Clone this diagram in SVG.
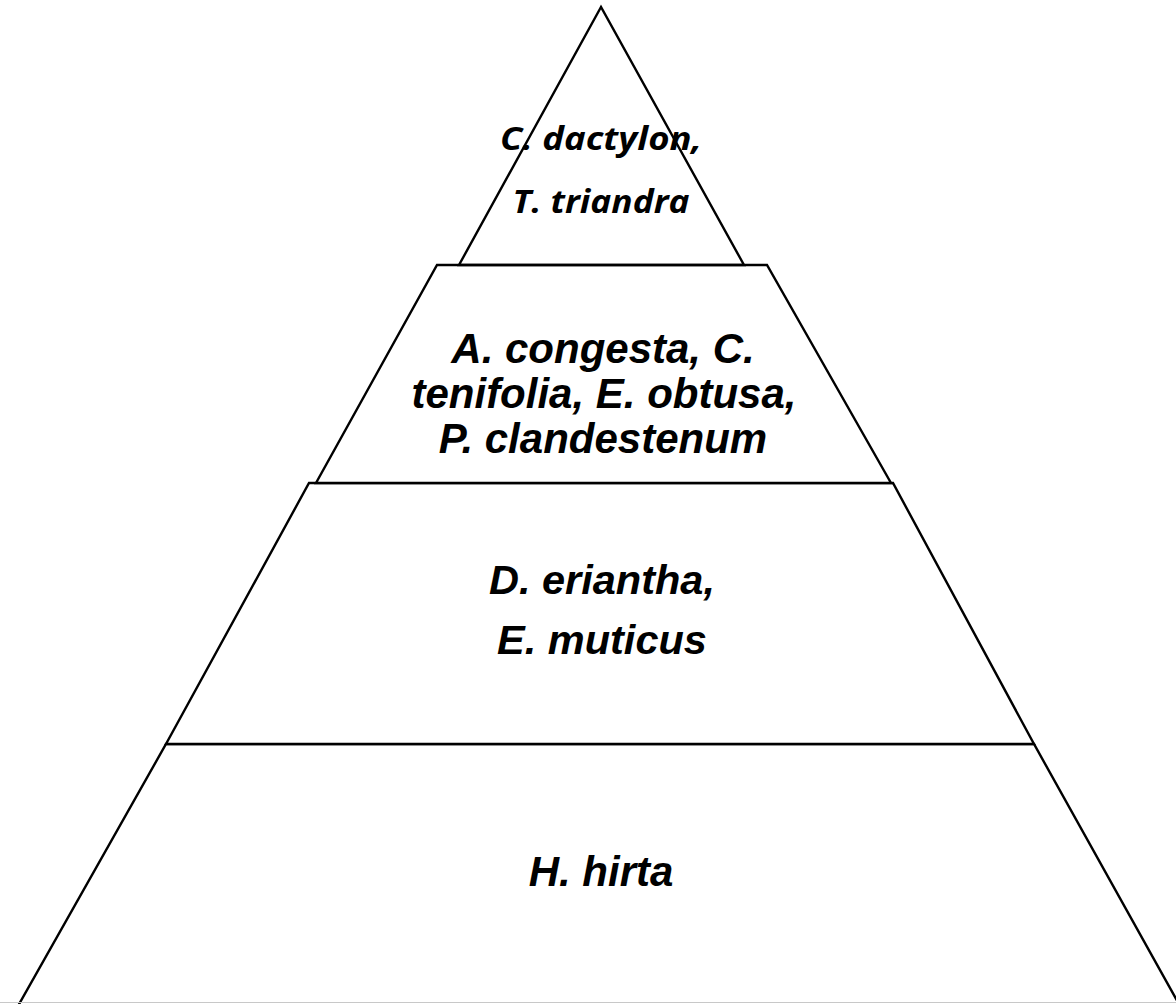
<svg xmlns="http://www.w3.org/2000/svg" width="1176" height="1004" viewBox="0 0 1176 1004">
<style>
.tier{fill:#fff;stroke:#000;stroke-width:2.4;stroke-linejoin:miter}
.lbl{font-family:"Liberation Sans",Arial,sans-serif;font-weight:bold;font-style:italic;font-size:42px;fill:#000;text-anchor:middle}
.mid{font-size:41.5px}
.top{font-family:"Open Sans",Lato,sans-serif;font-weight:bold;font-style:italic;font-size:33px;fill:#000;text-anchor:middle}
</style>
<rect width="1176" height="1004" fill="#fff"/>
<g id="tier4">
<polygon class="tier" points="166,744 1034,744 1180,1006 18,1006"/>
<line x1="0" y1="1002.5" x2="1176" y2="1002.5" stroke="#c8c8c8" stroke-width="1"/>
<text class="lbl" x="601" y="886">H. hirta</text>
</g>
<g id="tier3">
<polygon class="tier" points="309,483 893,483 1034,744 166,744"/>
<text class="lbl mid" x="602" y="594">D. eriantha,</text>
<text class="lbl mid" x="602" y="654">E. muticus</text>
</g>
<g id="tier2">
<polygon class="tier" points="437,265 767,265 891,483 316,483"/>
<text class="lbl" x="603" y="363">A. congesta, C.</text>
<text class="lbl" x="604" y="408">tenifolia, E. obtusa,</text>
<text class="lbl" x="603" y="453">P. clandestenum</text>
</g>
<g id="tier1">
<polygon class="tier" points="601,7 459,265 744,265" style="fill:none"/>
<text class="top" x="601" y="150" textLength="202" lengthAdjust="spacingAndGlyphs">C. dactylon,</text>
<text class="top" x="601" y="213" textLength="177" lengthAdjust="spacingAndGlyphs">T. triandra</text>
</g>
</svg>
